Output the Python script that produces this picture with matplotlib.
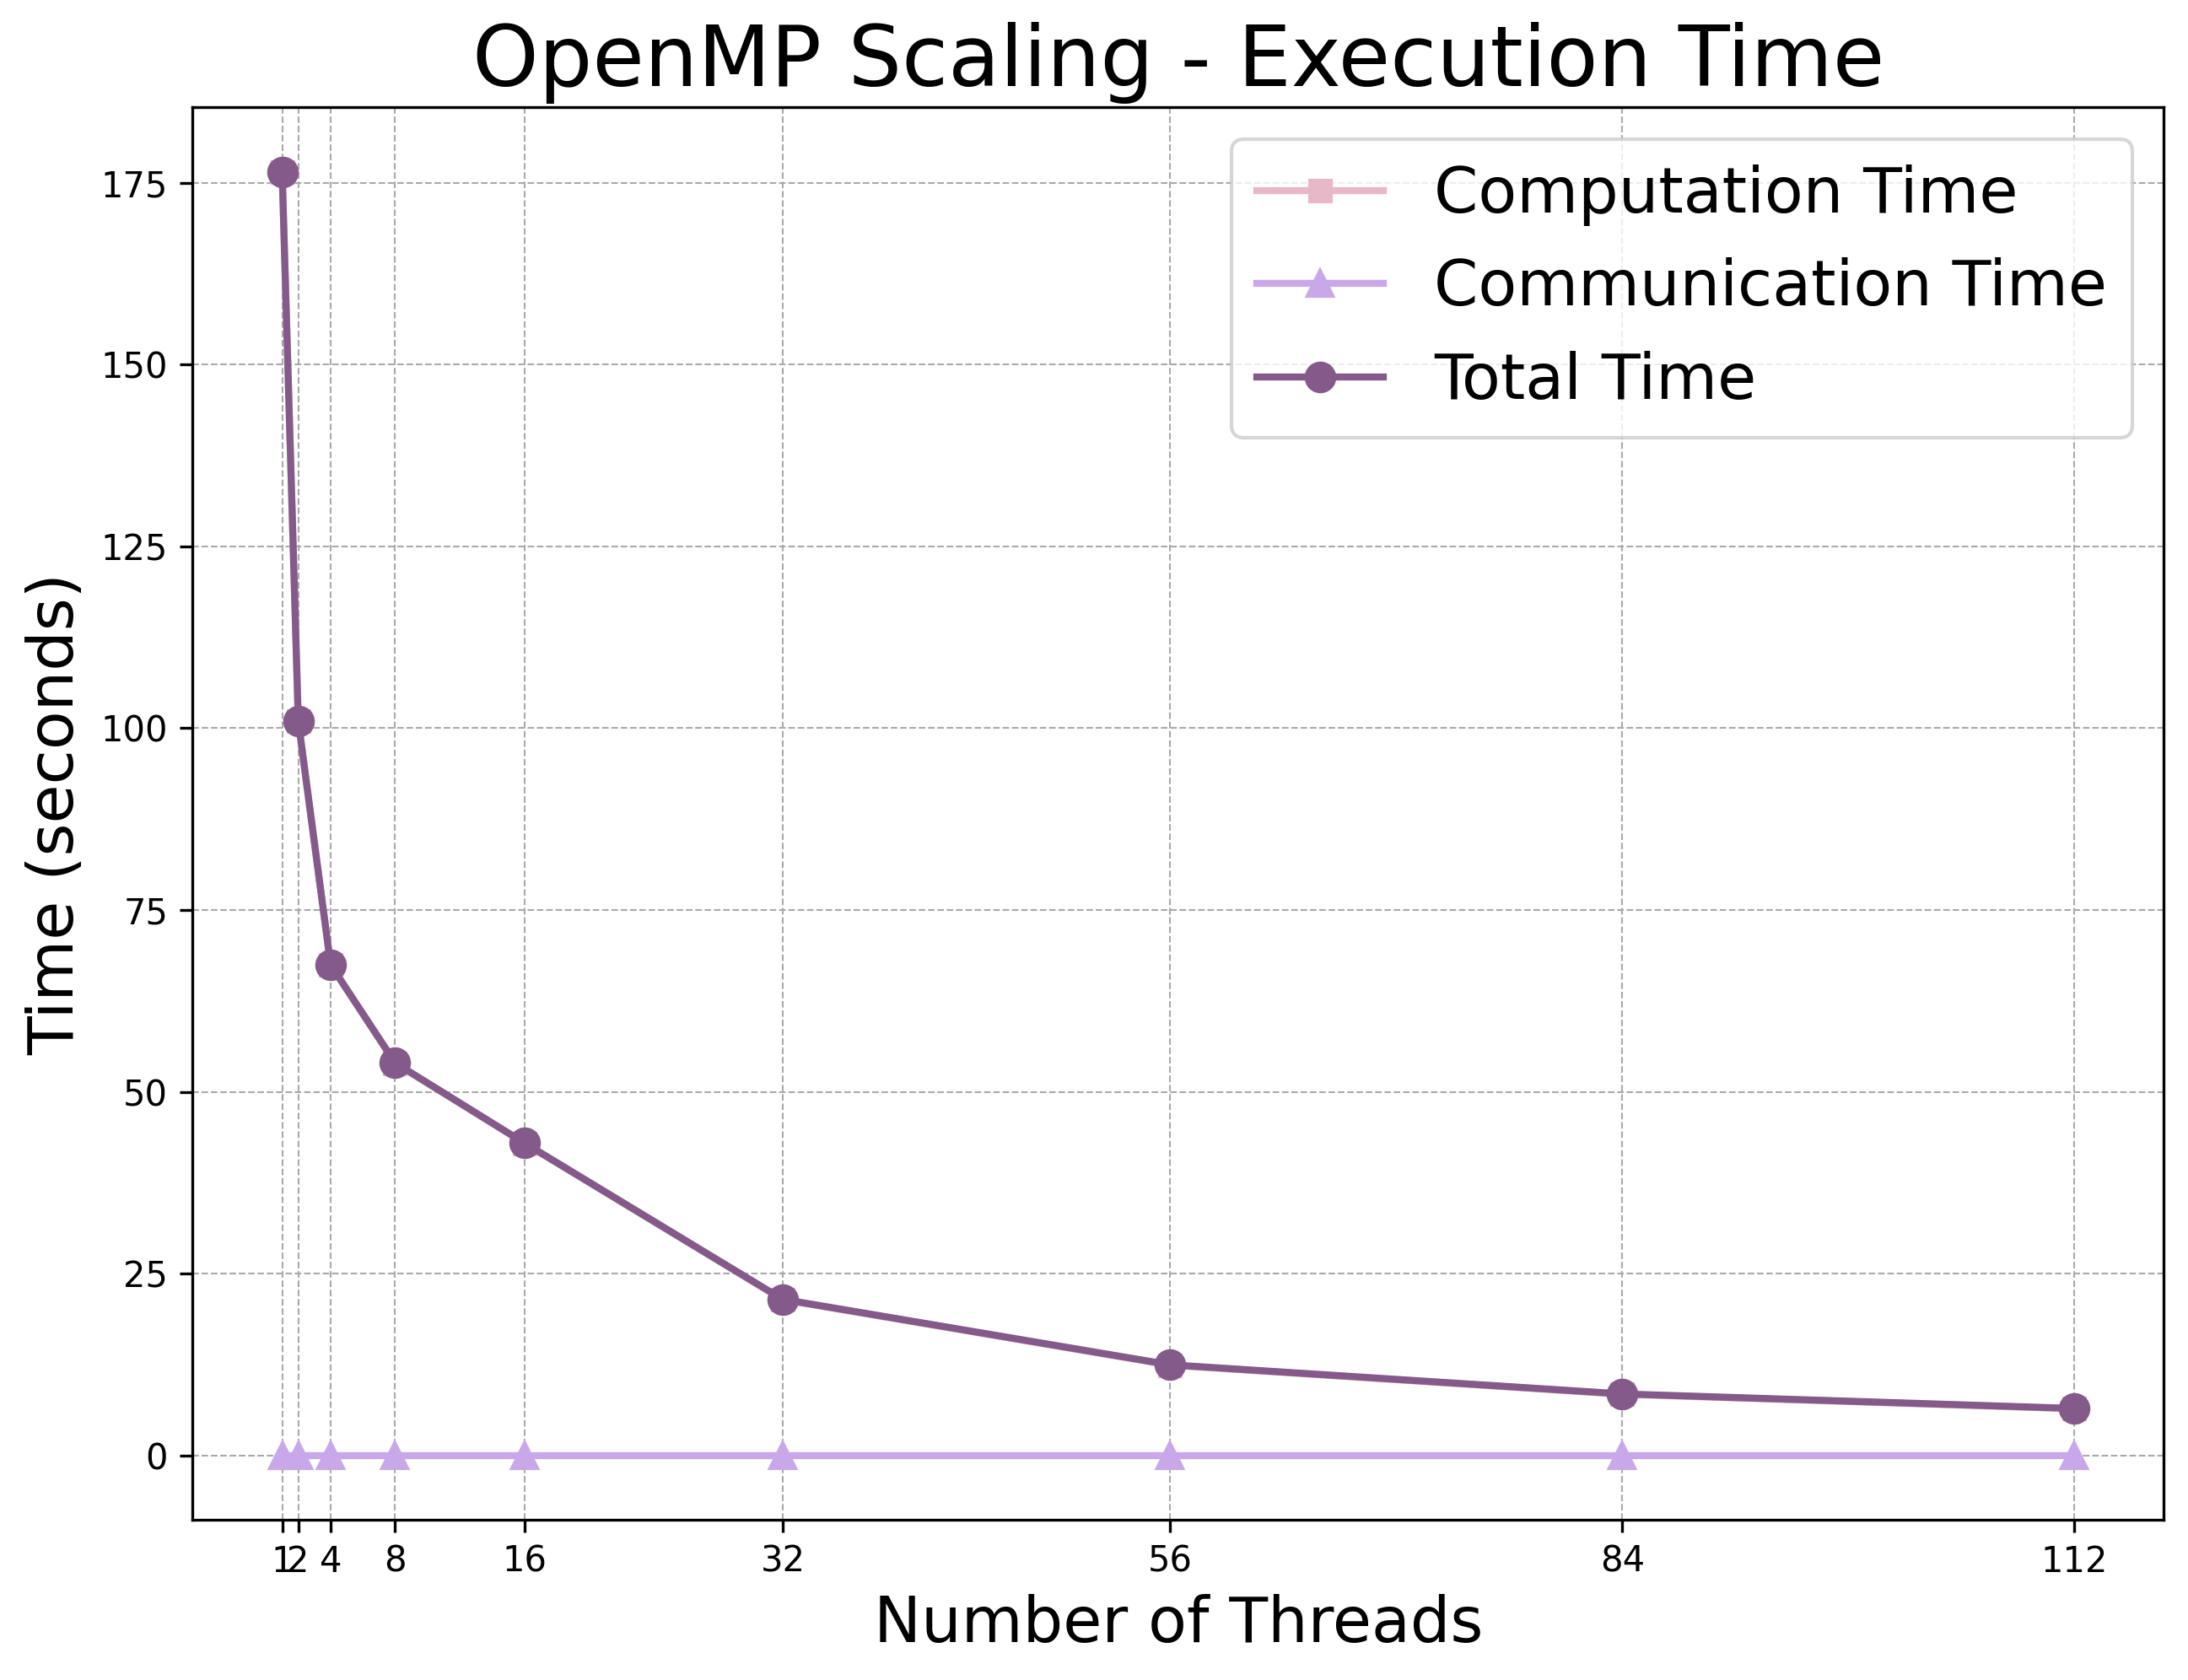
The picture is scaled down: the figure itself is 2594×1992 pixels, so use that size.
import matplotlib
matplotlib.use('Agg')
import matplotlib.pyplot as plt

threads = [1, 2, 4, 8, 16, 32, 56, 84, 112]
total_time = [176.5, 101.0, 67.5, 54.0, 43.0, 21.5, 12.5, 8.5, 6.5]
comm_time = [0.05, 0.05, 0.05, 0.05, 0.05, 0.05, 0.05, 0.05, 0.05]
comp_time = [t - c for t, c in zip(total_time, comm_time)]


def main():
    fig, ax = plt.subplots(figsize=(2594 / 300, 1992 / 300), dpi=300)
    fig.subplots_adjust(left=0.088, right=0.989, top=0.936, bottom=0.0955)

    ax.plot(threads, comp_time, marker='s', linestyle='-', linewidth=2,
            markersize=6, color='#E8B8C8', label='Computation Time')
    ax.plot(threads, comm_time, marker='^', linestyle='-', linewidth=2,
            markersize=7, color='#C8A8E8', label='Communication Time')
    ax.plot(threads, total_time, marker='o', linestyle='-', linewidth=2,
            markersize=8, color='#845A8A', label='Total Time')

    ax.set_title('OpenMP Scaling - Execution Time', fontsize=24)
    ax.set_xlabel('Number of Threads', fontsize=18)
    ax.set_ylabel('Time (seconds)', fontsize=18)
    ax.set_xticks(threads)
    ax.grid(True, linestyle='--', linewidth=0.5, color='#AAAAAA')
    ax.legend(fontsize=18, loc='upper right')

    fig.savefig('out.png', dpi=300)


if __name__ == "__main__":
    main()
